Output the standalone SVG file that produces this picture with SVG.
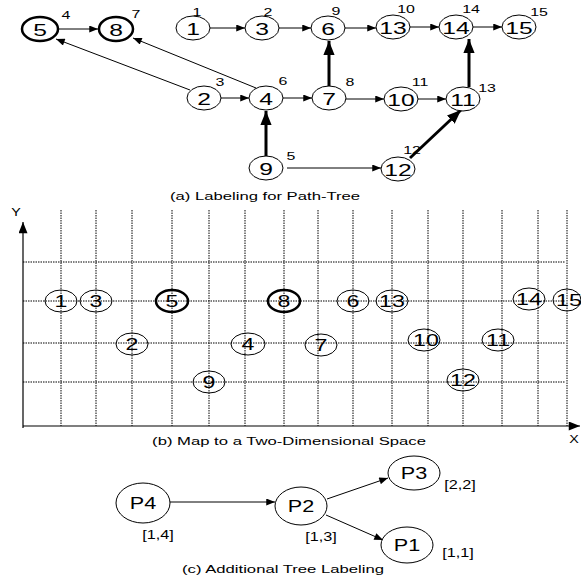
<svg xmlns="http://www.w3.org/2000/svg" width="581" height="586" viewBox="0 0 581 586">
<style>
text{font-family:"Liberation Sans",Arial,sans-serif;fill:#000;text-anchor:middle}
.n{fill:#fff;stroke:#000;stroke-width:1}
.nb{fill:#fff;stroke:#000;stroke-width:2.5}
.o{fill:none;stroke:#000;stroke-width:1}
.ob{fill:none;stroke:#000;stroke-width:2.5}
.t{font-size:17px}
.tb{font-size:16px}
.l{font-size:11px}
.p{font-size:16px}
.br{font-size:12.5px}
.cap{font-size:11.5px}
.e{stroke:#000;stroke-width:1;fill:none;marker-end:url(#a)}
.eb{stroke:#000;stroke-width:3;fill:none;marker-end:url(#ab)}
.g{stroke:#000;stroke-width:1;stroke-dasharray:1.5 1;fill:none}
</style>
<defs>
<marker id="a" viewBox="0 0 10 8" refX="10" refY="4" markerWidth="10" markerHeight="7" markerUnits="userSpaceOnUse" orient="auto"><path d="M0,0L10,4L0,8z" fill="#000"/></marker>
<marker id="ab" viewBox="0 0 10 8" refX="10" refY="4" markerWidth="14" markerHeight="12" markerUnits="userSpaceOnUse" orient="auto"><path d="M0,0L10,4L0,8z" fill="#000"/></marker>
<marker id="ax" viewBox="0 0 10 8" refX="10" refY="4" markerWidth="12" markerHeight="9" markerUnits="userSpaceOnUse" orient="auto"><path d="M0,0L10,4L0,8z" fill="#000"/></marker>
</defs>

<!-- (a) connectors -->
<g id="edges-a">
<line class="e" x1="58" y1="29" x2="98" y2="29"/>
<line class="e" x1="210" y1="28" x2="245" y2="28"/>
<line class="e" x1="279" y1="28" x2="311" y2="28"/>
<line class="e" x1="345" y1="28" x2="376" y2="28"/>
<line class="e" x1="410" y1="27" x2="439" y2="27"/>
<line class="e" x1="473" y1="27" x2="502" y2="27"/>
<line class="e" x1="190" y1="90" x2="56" y2="39"/>
<line class="e" x1="256" y1="88" x2="133" y2="38"/>
<line class="e" x1="221" y1="98" x2="249" y2="98"/>
<line class="e" x1="283" y1="98" x2="312" y2="98"/>
<line class="e" x1="346" y1="99" x2="384" y2="99"/>
<line class="e" x1="418" y1="99" x2="446" y2="99"/>
<line class="e" x1="287" y1="168" x2="381" y2="168"/>
<line class="eb" x1="329" y1="86" x2="329" y2="41"/>
<line class="eb" x1="469" y1="87" x2="469" y2="39"/>
<line class="eb" x1="266" y1="156" x2="266" y2="111"/>
<line class="eb" x1="410" y1="158" x2="461" y2="110"/>
</g>

<!-- (a) nodes -->
<g id="a5"><ellipse class="nb" cx="40" cy="29" rx="18" ry="12"/><text class="t" transform="translate(40,35.5) scale(1.45,1)">5</text><text class="l" transform="translate(66,19) scale(1.45,1)">4</text></g>
<g id="a8"><ellipse class="nb" cx="116" cy="29" rx="17" ry="12"/><text class="t" transform="translate(116,35.5) scale(1.45,1)">8</text><text class="l" transform="translate(136,18) scale(1.45,1)">7</text></g>
<g id="a1"><ellipse class="n" cx="193" cy="28" rx="17" ry="12"/><text class="t" transform="translate(193,34.5) scale(1.45,1)">1</text><text class="l" transform="translate(197,16) scale(1.45,1)">1</text></g>
<g id="a3"><ellipse class="n" cx="262" cy="28" rx="17" ry="12"/><text class="t" transform="translate(262,34.5) scale(1.45,1)">3</text><text class="l" transform="translate(268,16) scale(1.45,1)">2</text></g>
<g id="a6"><ellipse class="n" cx="328" cy="28" rx="17" ry="12"/><text class="t" transform="translate(328,34.5) scale(1.45,1)">6</text><text class="l" transform="translate(336,15) scale(1.45,1)">9</text></g>
<g id="a13"><ellipse class="n" cx="393" cy="27" rx="17" ry="12"/><text class="t" transform="translate(393,33.5) scale(1.45,1)">13</text><text class="l" transform="translate(406,13) scale(1.45,1)">10</text></g>
<g id="a14"><ellipse class="n" cx="456" cy="27" rx="17" ry="12"/><text class="t" transform="translate(456,33.5) scale(1.45,1)">14</text><text class="l" transform="translate(471,13) scale(1.45,1)">14</text></g>
<g id="a15"><ellipse class="n" cx="519" cy="27" rx="17" ry="12"/><text class="t" transform="translate(519,33.5) scale(1.45,1)">15</text><text class="l" transform="translate(539,16) scale(1.45,1)">15</text></g>
<g id="a2"><ellipse class="n" cx="204" cy="98" rx="17" ry="12"/><text class="t" transform="translate(204,104.5) scale(1.45,1)">2</text><text class="l" transform="translate(220,86) scale(1.45,1)">3</text></g>
<g id="a4"><ellipse class="n" cx="266" cy="98" rx="17" ry="12"/><text class="t" transform="translate(266,104.5) scale(1.45,1)">4</text><text class="l" transform="translate(283,85) scale(1.45,1)">6</text></g>
<g id="a7"><ellipse class="n" cx="329" cy="98" rx="17" ry="12"/><text class="t" transform="translate(329,104.5) scale(1.45,1)">7</text><text class="l" transform="translate(350,86) scale(1.45,1)">8</text></g>
<g id="a10"><ellipse class="n" cx="401" cy="99" rx="17" ry="12"/><text class="t" transform="translate(401,105.5) scale(1.45,1)">10</text><text class="l" transform="translate(420,86) scale(1.45,1)">11</text></g>
<g id="a11"><ellipse class="n" cx="463" cy="99" rx="17" ry="12"/><text class="t" transform="translate(463,105.5) scale(1.45,1)">11</text><text class="l" transform="translate(487,92) scale(1.45,1)">13</text></g>
<g id="a9"><ellipse class="n" cx="266" cy="168" rx="17" ry="12"/><text class="t" transform="translate(266,174.5) scale(1.45,1)">9</text><text class="l" transform="translate(291,160) scale(1.45,1)">5</text></g>
<g id="a12"><ellipse class="n" cx="398" cy="169" rx="17" ry="12"/><text class="t" transform="translate(398,175.5) scale(1.45,1)">12</text><text class="l" transform="translate(412,154) scale(1.45,1)">12</text></g>
<text class="cap" transform="translate(265,200) scale(1.45,1)">(a) Labeling for Path-Tree</text>

<!-- (b) grid -->
<g id="grid">
<path class="g" d="M61,210V426M96,210V426M132,210V426M172,210V426M209,210V426M245,210V426M284,210V426M318,210V426M353,210V426M392,210V426M428,210V426M463,210V426M502,210V426M538,210V426M567,210V426"/>
<path class="g" d="M23,262H565M23,301H565M23,343H565M23,382H565"/>
</g>
<g id="axes">
<line x1="23" y1="428" x2="23" y2="222" stroke="#000" stroke-width="1.2" marker-end="url(#ax)"/>
<line x1="23" y1="426" x2="580" y2="426" stroke="#000" stroke-width="1.2" marker-end="url(#ax)"/>
<text class="l" transform="translate(16,216) scale(1.3,1)">Y</text>
<text class="l" transform="translate(574,443) scale(1.3,1)">X</text>
</g>
<g id="b1"><ellipse class="o" cx="61" cy="301" rx="16" ry="11"/><text class="tb" transform="translate(61,307) scale(1.45,1)">1</text></g>
<g id="b3"><ellipse class="o" cx="96" cy="301" rx="16" ry="11"/><text class="tb" transform="translate(96,307) scale(1.45,1)">3</text></g>
<g id="b5"><ellipse class="ob" cx="172" cy="301" rx="16" ry="11"/><text class="tb" transform="translate(172,307) scale(1.45,1)">5</text></g>
<g id="b8"><ellipse class="ob" cx="284" cy="301" rx="16" ry="11"/><text class="tb" transform="translate(284,307) scale(1.45,1)">8</text></g>
<g id="b6"><ellipse class="o" cx="353" cy="301" rx="16" ry="11"/><text class="tb" transform="translate(353,307) scale(1.45,1)">6</text></g>
<g id="b13"><ellipse class="o" cx="392" cy="301" rx="16" ry="11"/><text class="tb" transform="translate(392,307) scale(1.45,1)">13</text></g>
<g id="b14"><ellipse class="o" cx="529" cy="299" rx="16" ry="11"/><text class="tb" transform="translate(529,305) scale(1.45,1)">14</text></g>
<g id="b15"><ellipse class="o" cx="567" cy="300" rx="14" ry="11"/><text class="tb" transform="translate(569,306) scale(1.45,1)">15</text></g>
<g id="b2"><ellipse class="o" cx="132" cy="344" rx="16" ry="11"/><text class="tb" transform="translate(132,350) scale(1.45,1)">2</text></g>
<g id="b4"><ellipse class="o" cx="248" cy="344" rx="17" ry="11"/><text class="tb" transform="translate(248,350) scale(1.45,1)">4</text></g>
<g id="b7"><ellipse class="o" cx="321" cy="345" rx="16" ry="11"/><text class="tb" transform="translate(321,351) scale(1.45,1)">7</text></g>
<g id="b10"><ellipse class="o" cx="424" cy="340" rx="16" ry="11"/><text class="tb" transform="translate(426,346) scale(1.45,1)">10</text></g>
<g id="b11"><ellipse class="o" cx="498" cy="340" rx="16" ry="11"/><text class="tb" transform="translate(498,346) scale(1.45,1)">11</text></g>
<g id="b9"><ellipse class="o" cx="209" cy="382" rx="16" ry="11"/><text class="tb" transform="translate(209,388) scale(1.45,1)">9</text></g>
<g id="b12"><ellipse class="o" cx="463" cy="380" rx="16" ry="11"/><text class="tb" transform="translate(463,386) scale(1.45,1)">12</text></g>
<text class="cap" transform="translate(289,445) scale(1.45,1)">(b) Map to a Two-Dimensional Space</text>

<!-- (c) -->
<g id="edges-c">
<line class="e" x1="170" y1="502" x2="275" y2="502"/>
<line class="e" x1="327" y1="499" x2="388" y2="478"/>
<line class="e" x1="326" y1="515" x2="383" y2="540"/>
</g>
<g id="P4"><ellipse class="n" cx="143" cy="503" rx="27" ry="20"/><text class="p" transform="translate(143,509) scale(1.35,1)">P4</text><text class="br" transform="translate(158,539) scale(1.3,1)">[1,4]</text></g>
<g id="P2"><ellipse class="n" cx="301" cy="506" rx="26" ry="19"/><text class="p" transform="translate(301,512) scale(1.35,1)">P2</text><text class="br" transform="translate(321,541) scale(1.3,1)">[1,3]</text></g>
<g id="P3"><ellipse class="n" cx="414" cy="473" rx="26" ry="17"/><text class="p" transform="translate(414,479) scale(1.35,1)">P3</text><text class="br" transform="translate(460,489) scale(1.3,1)">[2,2]</text></g>
<g id="P1"><ellipse class="n" cx="407" cy="545" rx="26" ry="18"/><text class="p" transform="translate(407,551) scale(1.35,1)">P1</text><text class="br" transform="translate(458,557) scale(1.3,1)">[1,1]</text></g>
<text class="cap" transform="translate(283,573) scale(1.45,1)">(c) Additional Tree Labeling</text>
</svg>
